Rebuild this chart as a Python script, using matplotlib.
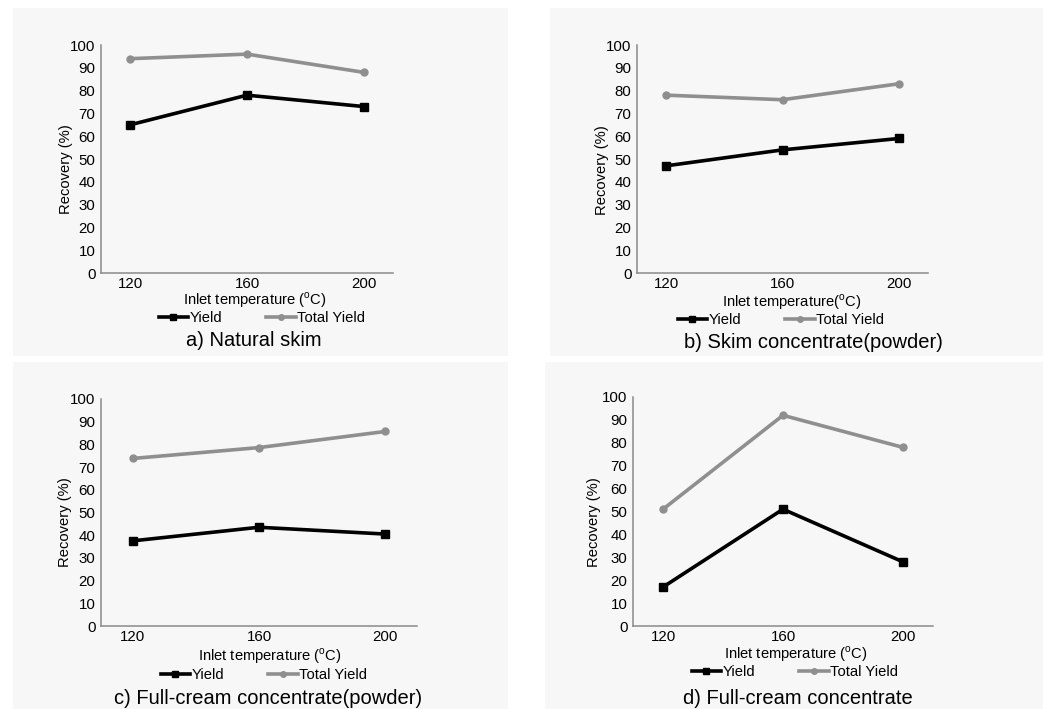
import matplotlib
matplotlib.use("Agg")
import matplotlib.pyplot as plt
from matplotlib.patches import Rectangle
from matplotlib.lines import Line2D

plt.rcParams['font.family'] = ['Liberation Sans', 'DejaVu Sans']
plt.rcParams['mathtext.fontset'] = 'custom'
plt.rcParams['mathtext.rm'] = 'Liberation Sans'

temps = ["120", "160", "200"]
titles = ["a) Natural skim", "b) Skim concentrate(powder)",
          "c) Full-cream concentrate(powder)", "d) Full-cream concentrate"]
xlabels = ["Inlet temperature ($^{\\mathrm{o}}$C)", "Inlet temperature($^{\\mathrm{o}}$C)",
           "Inlet temperature ($^{\\mathrm{o}}$C)", "Inlet temperature ($^{\\mathrm{o}}$C)"]
yield_a = [65, 78, 73]
total_a = [94, 96, 88]
yield_b = [47, 54, 59]
total_b = [78, 76, 83]
yield_c = [37.5, 43.5, 40.5]
total_c = [73.8, 78.6, 85.7]
yield_d = [17, 51, 28]
total_d = [51, 92, 78]
yields = [yield_a, yield_b, yield_c, yield_d]
totals = [total_a, total_b, total_c, total_d]

W, H = 1043, 709
fig = plt.figure(figsize=(W / 100, H / 100), dpi=100)
fig.patch.set_facecolor("white")

def fx(x):
    return x / W

def fy(y):
    return 1 - y / H

# panel backgrounds (pixel boxes)
bgs = [(13, 8, 508, 356), (550, 8, 1043, 356), (13, 362, 508, 709), (545, 362, 1043, 709)]
for (x0, y0, x1, y1) in bgs:
    fig.patches.append(Rectangle((fx(x0), fy(y1)), fx(x1 - x0), (y1 - y0) / H,
                                 transform=fig.transFigure, facecolor="#f7f7f7",
                                 edgecolor="none", zorder=-5))

# axes boxes: left, right, top, bottom in pixels
boxes = [(101, 393, 45, 273), (637, 928, 45, 273), (101, 417, 399, 626), (633, 933, 397, 626)]
ylab_pos = [(66, 169), (602, 170), (65, 522), (594, 522)]
xlab_pos = [(255, 300), (792, 302), (270, 656), (796, 654)]
leg_pos = [(262, 318), (781, 320), (264, 675), (795, 672)]
title_pos = [(254, 341), (813, 343), (268, 698), (798, 698)]

gray = "#8f8f8f"
axis_col = "#8a8a8a"

for i in range(4):
    l, r, t, b = boxes[i]
    ax = fig.add_axes([fx(l), fy(b), fx(r - l), (b - t) / H])
    ax.set_zorder(2)
    ax.patch.set_alpha(0)
    xs = list(range(len(temps)))
    ax.plot(xs, yields[i], color="black", lw=2.6, marker="s", ms=5.5, zorder=3)
    ax.plot(xs, totals[i], color=gray, lw=2.6, marker="o", ms=5, zorder=3)
    ax.set_xlim(-0.25, 2.25)
    ax.set_ylim(0, 100)
    ax.set_yticks(range(0, 101, 10))
    ax.set_xticks(xs)
    ax.set_xticklabels(temps)
    ax.tick_params(axis="both", length=0, labelsize=10.8, colors="black")
    ax.tick_params(axis="y", pad=4)
    ax.tick_params(axis="x", pad=3)
    for s in ["top", "right"]:
        ax.spines[s].set_visible(False)
    for s in ["left", "bottom"]:
        ax.spines[s].set_color(axis_col)
        ax.spines[s].set_linewidth(1.1)

    x, y = ylab_pos[i]
    fig.text(fx(x), fy(y), "Recovery (%)", rotation=90, ha="center", va="center", fontsize=10.6)
    x, y = xlab_pos[i]
    fig.text(fx(x), fy(y), xlabels[i], ha="center", va="center", fontsize=10.6)
    x, y = title_pos[i]
    fig.text(fx(x), fy(y), titles[i], ha="center", va="center", fontsize=14.5)

    handles = [Line2D([], [], color="black", lw=2.6, marker="s", ms=4.5),
               Line2D([], [], color=gray, lw=2.6, marker="o", ms=4)]
    x, y = leg_pos[i]
    fig.legend(handles, ["Yield", "Total Yield"], loc="center", bbox_to_anchor=(fx(x), fy(y)),
               ncol=2, frameon=False, fontsize=10.6, handlelength=2.0, handletextpad=0.1,
               columnspacing=3.0, borderpad=0, borderaxespad=0)

fig.savefig("out.png", dpi=100, facecolor="white")
